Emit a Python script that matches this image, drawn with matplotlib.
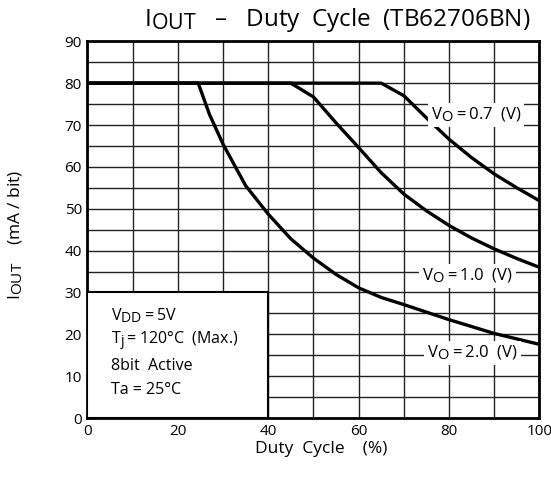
import numpy as np
import matplotlib
matplotlib.use("Agg")
import matplotlib.pyplot as plt
import matplotlib._mathtext as mathtext_mod
from matplotlib.patches import Rectangle

plt.rcParams["font.family"] = ["Open Sans", "DejaVu Sans"]
plt.rcParams["mathtext.fontset"] = "custom"
plt.rcParams["mathtext.rm"] = "Open Sans"
plt.rcParams["mathtext.it"] = "Open Sans"
# índices quase do mesmo tamanho do texto, como no original
mathtext_mod.SHRINK_FACTOR = 0.88

# Curvas (duty cycle %, I_OUT mA/bit)
duty_07 = [0, 65, 70, 75, 80, 85, 90, 95, 100]
iout_07 = [80, 80, 77, 71.7, 66.6, 62.2, 58.3, 55.0, 51.9]

duty_10 = [0, 45, 50, 55, 60, 65, 70, 75, 80, 85, 90, 95, 100]
iout_10 = [80, 80, 76.7, 70.5, 64.6, 58.6, 53.5, 49.5, 46.0, 43.0, 40.4, 38.1, 36.0]

duty_20 = [0, 24.5, 27, 30, 35, 40, 45, 50, 55, 60, 65, 70, 80, 90, 100]
iout_20 = [80, 80, 72.5, 65.4, 55.5, 48.7, 42.8, 38.2, 34.3, 31.1, 28.8, 27.1, 23.5, 20.2, 17.6]

curve_labels = ["$\\mathregular{V_O = 0.7}$  (V)",
                "$\\mathregular{V_O = 1.0}$  (V)",
                "$\\mathregular{V_O = 2.0}$  (V)"]
label_pos = [(86.0, 72.5), (84.1, 34.0), (85.2, 15.5)]

cond_lines = ["$\\mathregular{V_{DD} = 5V}$",
              "$\\mathregular{T_j = 120°C}$  (Max.)",
              "8bit  Active",
              "Ta = 25°C"]
cond_y = [24.5, 18.2, 12.4, 6.7]

fig = plt.figure(figsize=(5.51, 4.79), dpi=100)
ax = fig.add_axes([0.1588, 0.1273, 0.8202, 0.7865])

ax.set_xlim(0, 100)
ax.set_ylim(0, 90)
ax.set_xticks(np.arange(0, 101, 20))
ax.set_xticks(np.arange(0, 101, 10), minor=True)
ax.set_yticks(np.arange(0, 91, 10))
ax.set_yticks(np.arange(0, 91, 5), minor=True)
ax.tick_params(which="both", length=0, labelsize=11, pad=4)
ax.grid(True, which="both", color="#222222", linewidth=1.0)
ax.set_axisbelow(True)
for s in ax.spines.values():
    s.set_linewidth(2)

for d, i in [(duty_07, iout_07), (duty_10, iout_10), (duty_20, iout_20)]:
    ax.plot(d, i, color="black", linewidth=2.4, solid_joinstyle="round", zorder=3)

# Caixa com condições
ax.add_patch(Rectangle((0, 0), 40, 30, facecolor="white", edgecolor="black",
                       linewidth=1.5, zorder=4))
for txt, yy in zip(cond_lines, cond_y):
    ax.text(5.3, yy, txt, fontsize=11.5, va="center", ha="left", zorder=5)

for txt, (xx, yy) in zip(curve_labels, label_pos):
    ax.text(xx, yy, txt, fontsize=12, ha="center", va="center", zorder=5,
            bbox=dict(facecolor="white", edgecolor="none", pad=2))

ax.set_xlabel("Duty  Cycle    (%)", fontsize=12.5)
ax.xaxis.set_label_coords(0.518, -0.062)
ax.set_ylabel("$\\mathregular{I_{OUT}}$    (mA / bit)", fontsize=12.5)
ax.yaxis.set_label_coords(-0.138, 0.486)
ax.text(0.553, 1.057, "$\\mathregular{I_{OUT}}$   –   Duty  Cycle  (TB62706BN)",
        transform=ax.transAxes, fontsize=17.5, ha="center", va="center")

fig.savefig("out.png", dpi=100)
